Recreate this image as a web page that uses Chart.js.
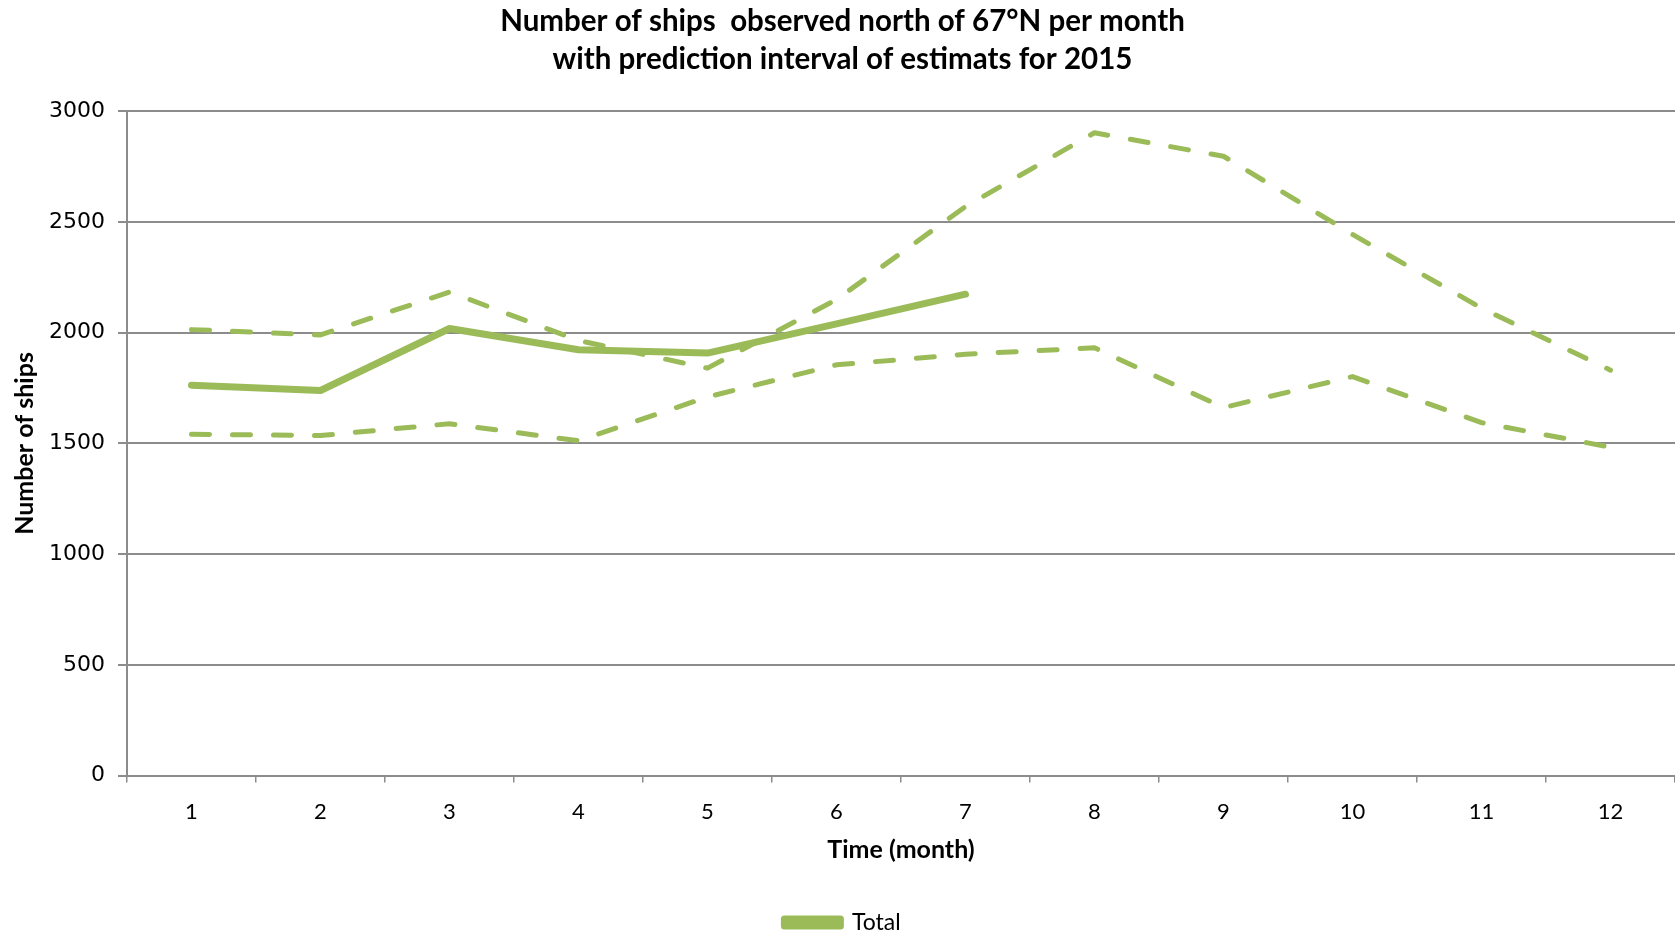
<!DOCTYPE html>
<html>
<head>
<meta charset="utf-8">
<script src="https://cdn.jsdelivr.net/npm/chart.js@4"></script>
<style>
  html, body { margin: 0; padding: 0; background: #fff; }
  #wrap { width: 1675px; height: 934px; position: relative; }
</style>
</head>
<body>
<div id="wrap"><canvas id="chart"></canvas></div>
<script>
const MONTHS = ["1", "2", "3", "4", "5", "6", "7", "8", "9", "10", "11", "12"];
const TOTAL = [1763, 1739, 2019, 1923, 1908, 2040, 2174, null, null, null, null, null];
const UPPER = [2014, 1990, 2184, 1965, 1840, 2150, 2570, 2903, 2797, 2444, 2111, 1831];
const LOWER = [1541, 1536, 1589, 1512, 1710, 1855, 1903, 1932, 1662, 1802, 1594, 1483];
const Y_TICKS = [0, 500, 1000, 1500, 2000, 2500, 3000];

const GREEN = "#9BBB59";
const GRID = "#8c8c8c";

function dashedSet(label, values) {
  return {
    label: label,
    data: values,
    borderColor: GREEN,
    backgroundColor: GREEN,
    borderWidth: 5,
    borderDash: [18, 23],
    borderCapStyle: "round",
    borderJoinStyle: "round",
    pointRadius: 0,
    tension: 0,
    fill: false,
  };
}

new Chart(document.getElementById("chart"), {
  type: "line",
  data: {
    labels: MONTHS,
    datasets: [
      {
        label: "Total",
        data: TOTAL,
        borderColor: GREEN,
        backgroundColor: GREEN,
        borderWidth: 7,
        borderCapStyle: "round",
        borderJoinStyle: "round",
        pointRadius: 0,
        tension: 0,
        fill: false,
      },
      dashedSet("Upper", UPPER),
      dashedSet("Lower", LOWER),
    ],
  },
  options: {
    responsive: true,
    maintainAspectRatio: false,
    animation: false,
    layout: { padding: { left: 10, right: 0, top: 2, bottom: -10 } },
    scales: {
      x: {
        offset: true,
        grid: {
          offset: true,
          drawOnChartArea: false,
          color: GRID,
          tickLength: 7,
          lineWidth: 1.5,
        },
        border: { color: GRID, width: 2 },
        ticks: {
          color: "#000",
          font: { family: "Lato", size: 22 },
          padding: 16,
        },
        title: {
          display: true,
          text: "Time (month)",
          color: "#000",
          font: { family: "Lato", size: 25, weight: "bold", lineHeight: 1.0 },
          padding: { top: -4, bottom: 46 },
        },
      },
      y: {
        min: 0,
        max: 3000,
        afterBuildTicks: (axis) => {
          axis.ticks = Y_TICKS.map((v) => ({ value: v }));
        },
        grid: {
          color: GRID,
          lineWidth: 2,
          tickLength: 9,
        },
        border: { color: GRID, width: 2 },
        ticks: {
          color: "#000",
          font: { family: "DejaVu Sans", size: 22 },
          padding: 13,
          callback: (value) => String(value),
        },
        title: {
          display: true,
          text: "Number of ships",
          color: "#000",
          font: { family: "Lato", size: 25, weight: "bold" },
          padding: { top: 0, bottom: -4 },
        },
      },
    },
    plugins: {
      title: {
        display: true,
        text: [
          "Number of ships  observed north of 67°N per month",
          "with prediction interval of estimats for 2015",
        ],
        color: "#000",
        font: { family: "Lato", size: 29.5, weight: "bold", lineHeight: 1.31 },
        padding: { top: 0, bottom: 32 },
      },
      legend: {
        position: "bottom",
        labels: {
          filter: (item) => item.text === "Total",
          color: "#000",
          font: { family: "Lato", size: 23 },
          boxWidth: 56,
          boxHeight: 7,
          padding: 3,
        },
      },
      tooltip: { enabled: false },
    },
  },
});
</script>
</body>
</html>
